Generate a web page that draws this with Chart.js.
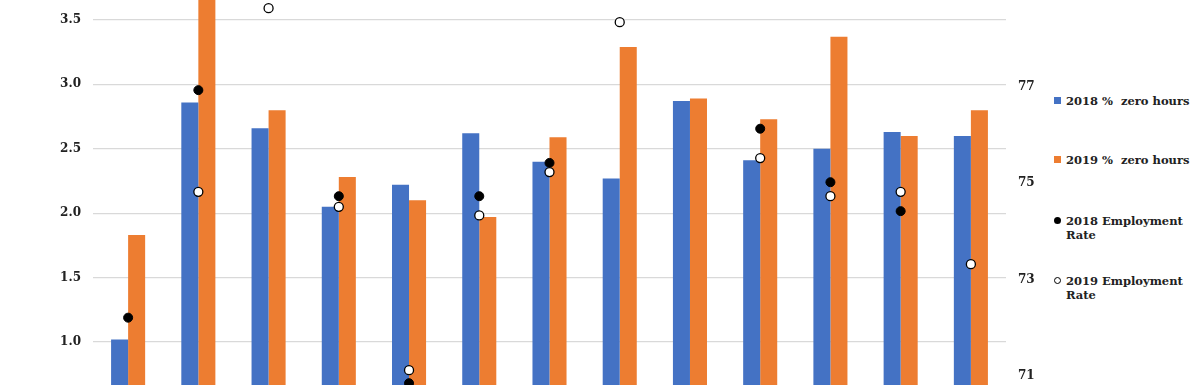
<!DOCTYPE html>
<html>
<head>
<meta charset="utf-8">
<script src="https://cdn.jsdelivr.net/npm/chart.js@4/dist/chart.umd.min.js"></script>
<style>
    html, body { margin: 0; padding: 0; background: #fff; }
    #wrap { position: relative; width: 1200px; height: 385px; overflow: hidden; }
    #ourChart { position: absolute; left: 0; top: 0; }
    #legend { position: absolute; left: 1054px; top: 0; width: 146px; font-family: "DejaVu Serif", serif; font-weight: bold; font-size: 11.5px; color: #222; }
    .item { position: absolute; left: 0; line-height: 14px; white-space: pre; }
    .mark { position: absolute; left: 0; top: 3px; width: 7px; height: 7px; box-sizing: border-box; }
    .txt { position: absolute; left: 12px; top: 0; }
</style>
</head>
<body>
<div id="wrap">
    <canvas id="ourChart" width="1050" height="385"></canvas>
    <div id="legend"></div>
</div>
<script>
var categories = ["1", "2", "3", "4", "5", "6", "7", "8", "9", "10", "11", "12", "13"];
var zero2018 = [1.02, 2.86, 2.66, 2.05, 2.22, 2.62, 2.40, 2.27, 2.87, 2.41, 2.50, 2.63, 2.60];
var zero2019 = [1.83, 3.80, 2.80, 2.28, 2.10, 1.97, 2.59, 3.29, 2.89, 2.73, 3.37, 2.60, 2.80];
var emp2018 = [72.21, 76.93, null, 74.73, 70.85, 74.73, 75.42, null, null, 76.13, 75.02, 74.42, null];
var emp2019 = [null, 74.82, 78.63, 74.51, 71.12, 74.33, 75.23, 78.34, null, 75.52, 74.73, 74.82, 73.32];
var leftTicks = [1.0, 1.5, 2.0, 2.5, 3.0, 3.5];
var rightTicks = [71, 73, 75, 77];
// part of each axis that shows in the picture (bottom, top)
var leftView = [0.666, 3.655];
var rightView = [70.813, 78.80];
var legendNames = ["2018 %  zero hours", "2019 %  zero hours", "2018 Employment\nRate", "2019 Employment\nRate"];

// lineHeight 0 so the axis labels add no room above/below the plot
var tickFont = { family: "DejaVu Serif", weight: "bold", size: 12, lineHeight: "0px" };

var chartElement = new Chart(document.getElementById("ourChart"), {
    type: 'bar',
    data: {
        labels: categories,
        datasets: [
            {
                label: legendNames[0],
                data: zero2018,
                backgroundColor: '#4472C4',
                yAxisID: 'y',
                order: 2,
                clip: false,
                barPercentage: 1.0,
                categoryPercentage: 0.485
            },
            {
                label: legendNames[1],
                data: zero2019,
                backgroundColor: '#ED7D31',
                yAxisID: 'y',
                order: 2,
                clip: false,
                barPercentage: 1.0,
                categoryPercentage: 0.485
            },
            {
                type: 'line',
                label: legendNames[2],
                data: emp2018,
                showLine: false,
                yAxisID: 'y2',
                order: 1,
                clip: false,
                pointRadius: 4.5,
                pointBackgroundColor: '#000',
                pointBorderColor: '#000',
                pointBorderWidth: 1
            },
            {
                type: 'line',
                label: legendNames[3],
                data: emp2019,
                showLine: false,
                yAxisID: 'y2',
                order: 0,
                clip: false,
                pointRadius: 4.5,
                pointBackgroundColor: '#fff',
                pointBorderColor: '#000',
                pointBorderWidth: 1.3
            }
        ]
    },
    options: {
        responsive: false,
        animation: false,
        devicePixelRatio: 1,
        layout: { padding: 0 },
        plugins: {
            legend: { display: false },
            tooltip: { enabled: false }
        },
        scales: {
            x: {
                display: false
            },
            y: {
                position: 'left',
                min: leftView[0],
                max: leftView[1],
                afterBuildTicks: function (scale) {
                    scale.ticks = leftTicks.map(function (v) { return { value: v }; });
                },
                afterFit: function (scale) { scale.width = 93; },
                border: { display: false },
                grid: { color: '#D9D9D9', lineWidth: 1.3, drawTicks: true, tickLength: 12, tickColor: 'rgba(0,0,0,0)' },
                ticks: {
                    padding: 0,
                    color: '#222',
                    font: tickFont,
                    callback: function (v) { return Number(v).toFixed(1); }
                }
            },
            y2: {
                position: 'right',
                min: rightView[0],
                max: rightView[1],
                afterBuildTicks: function (scale) {
                    scale.ticks = rightTicks.map(function (v) { return { value: v }; });
                },
                afterFit: function (scale) { scale.width = 44; },
                border: { display: false },
                grid: { drawOnChartArea: false, drawTicks: true, tickLength: 12, tickColor: 'rgba(0,0,0,0)' },
                ticks: {
                    padding: 0,
                    color: '#222',
                    font: tickFont,
                    callback: function (v) { return String(v); }
                }
            }
        }
    }
});

// the plot in the picture runs past the top and bottom edge:
// stretch both axes so the visible window is exactly leftView / rightView
var area = chartElement.chartArea;
var H = 385;
function stretch(view) {
    var k = (view[1] - view[0]) / H;
    return [view[0] + (H - area.bottom) * k, view[1] - area.top * k];
}
var l = stretch(leftView), r = stretch(rightView);
chartElement.options.scales.y.min = l[0];
chartElement.options.scales.y.max = l[1];
chartElement.options.scales.y2.min = r[0];
chartElement.options.scales.y2.max = r[1];
chartElement.update();

// html legend, placed like the original one
var legendTops = [94, 153, 214, 274];
var legendDiv = document.getElementById("legend");
legendNames.forEach(function (name, i) {
    var item = document.createElement("div");
    item.className = "item";
    item.style.top = legendTops[i] + "px";
    var mark = document.createElement("div");
    mark.className = "mark";
    if (i === 0) mark.style.background = '#4472C4';
    if (i === 1) mark.style.background = '#ED7D31';
    if (i === 2) { mark.style.background = '#000'; mark.style.borderRadius = '50%'; }
    if (i === 3) { mark.style.background = '#fff'; mark.style.border = '1px solid #000'; mark.style.borderRadius = '50%'; }
    var txt = document.createElement("div");
    txt.className = "txt";
    txt.textContent = name;
    item.appendChild(mark);
    item.appendChild(txt);
    legendDiv.appendChild(item);
});
</script>
</body>
</html>
